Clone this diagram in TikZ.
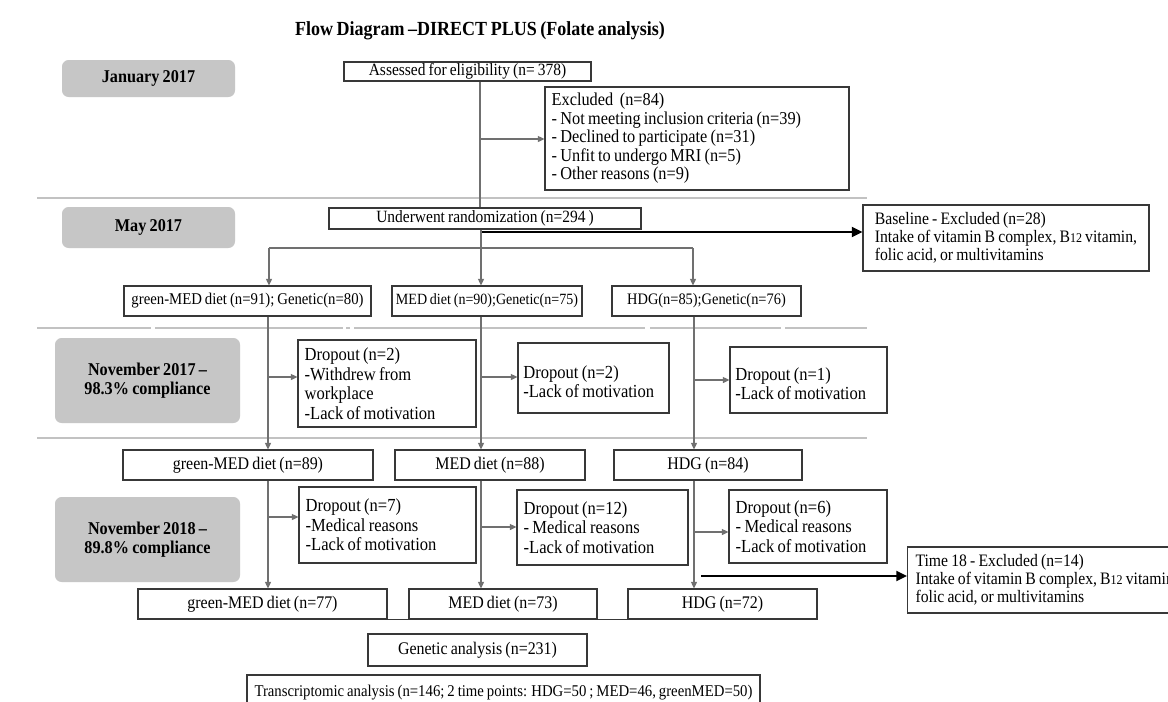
\documentclass[tikz,border=0pt]{standalone}
\usepackage{fontspec}
\setmainfont{Liberation Serif}[FakeStretch=0.9,WordSpace=0.8]
\usetikzlibrary{arrows.meta}
\newcommand\myfs[2]{\fontsize{#1}{#2}\selectfont}
\definecolor{conc}{HTML}{707070}
\definecolor{boxc}{HTML}{383838}
\definecolor{sepc}{HTML}{C2C2C2}
\definecolor{tlc}{HTML}{C6C6C6}
\begin{document}
\begin{tikzpicture}[x=0.75pt,y=-0.75pt,
  conn/.style={draw=conc, line width=1pt},
  arr/.style={conn, -{Triangle[length=5pt,width=4.5pt]}},
  blk/.style={draw=black, line width=1.4pt, -{Triangle[length=8pt,width=7.5pt]}},
  sep/.style={draw=sepc, line width=1.5pt},
  box/.style={draw=boxc, line width=0.8pt, inner sep=0pt, align=center, font=\myfs{13.3}{15}},
  sz/.style 2 args={minimum width=#1*0.75pt, minimum height=#2*0.75pt},
  lbox/.style n args={3}{box, align=left, inner xsep=#3, text width=#1*0.75pt-2*#3, minimum width=#1*0.75pt, minimum height=#2*0.75pt, execute at begin node={\spaceskip=0pt\xspaceskip=0pt}},
  tl/.style={fill=tlc, rounded corners=5pt, inner sep=0pt, align=center, font=\bfseries\myfs{13.5}{14}},
  dtext/.style={font=\myfs{13.8}{14.6}},
  vtext/.style={font=\myfs{13.1}{13.6}},
]
\fill[white] (0,0) rectangle (1168,701);
\useasboundingbox (0,0) rectangle (1168,701);

% title
\node[font=\bfseries\myfs{15}{17}] (title) at (480,31) {Flow Diagram –DIRECT PLUS (Folate analysis)};

% separators
\draw[sep] (37,198) -- (867,198);
\draw[sep] (37,328) -- (151,328);
\draw[sep] (155,328) -- (343,328);
\draw[sep] (346,328) -- (350,328);
\draw[sep] (354,328) -- (645,328);
\draw[sep] (650,328) -- (781,328);
\draw[sep] (785,328) -- (867,328);
\draw[sep] (37,438) -- (867,438);

% timeline boxes
\node[tl, sz={173}{37}] (jan) at (148.5,78.5) {January 2017};
\node[tl, sz={173}{41}] (may) at (148.5,227.5) {May 2017};
\node[tl, sz={185}{85}] (nov17) at (147.5,380.5) {November 2017 –\\98.3\% compliance};
\node[tl, sz={185}{85}] (nov18) at (147.5,539.5) {November 2018 –\\89.8\% compliance};

% flow boxes
\node[box, sz={247}{19}, font=\myfs{12.9}{14}] (assess) at (467.5,71.5) {Assessed for eligibility (n= 378)};
\node[lbox={304}{103}{5pt}, font=\myfs{13.6}{13.9}] (excl) at (697,138.5) {Excluded~ (n=84)\\- Not meeting inclusion criteria (n=39)\\- Declined to participate (n=31)\\- Unfit to undergo MRI (n=5)\\- Other reasons (n=9)};
\node[box, sz={312}{21}, font=\myfs{12.9}{14}] (rand) at (485,218.5) {Underwent randomization (n=294 )};
\node[box, sz={286}{66}, vtext, align=left] (base) at (1006,238) {Baseline - Excluded (n=28)\\Intake of vitamin B complex, B{\myfs{10}{10}12} vitamin,\\folic acid, or multivitamins};

\node[box, sz={247}{30}, font=\myfs{12.3}{14}] (g1) at (247.5,301) {green-MED diet (n=91); Genetic(n=80)};
\node[box, sz={190}{30}, font=\myfs{11.7}{14}] (m1) at (487,301) {MED diet (n=90);Genetic(n=75)};
\node[box, sz={189}{30}, font=\myfs{12}{14}] (h1) at (706.5,301) {HDG(n=85);Genetic(n=76)};

\node[lbox={178}{87}{5pt}, dtext] (d1) at (387,383.5) {Dropout (n=2)\\-Withdrew from\\workplace\\-Lack of motivation};
\node[lbox={151}{70}{4pt}, dtext, text depth=9pt] (d2) at (593.5,378) {Dropout (n=2)\\-Lack of motivation};
\node[lbox={157}{66}{4pt}, dtext, text depth=9pt] (d3) at (808.5,380) {Dropout (n=1)\\-Lack of motivation};

\node[box, sz={250}{30}] (g2) at (248,465) {green-MED diet (n=89)};
\node[box, sz={190}{30}] (m2) at (490,465) {MED diet (n=88)};
\node[box, sz={188}{30}] (h2) at (708,465) {HDG (n=84)};

\node[lbox={177}{76}{5pt}, dtext] (d4) at (387.5,525) {Dropout (n=7)\\-Medical reasons\\-Lack of motivation};
\node[lbox={171}{75}{5pt}, dtext] (d5) at (602.5,527.5) {Dropout (n=12)\\- Medical reasons\\-Lack of motivation};
\node[lbox={158}{73}{5pt}, dtext] (d6) at (808,526.5) {Dropout (n=6)\\- Medical reasons\\-Lack of motivation};

\node[box, vtext, align=left, inner xsep=6pt, minimum height=66*0.75pt, anchor=west] (t18) at (907,580) {Time 18 - Excluded (n=14)\\Intake of vitamin B complex, B{\myfs{10}{10}12} vitamin,\\folic acid, or multivitamins};

\node[box, sz={249}{30}] (g3) at (262.5,604) {green-MED diet (n=77)};
\node[box, sz={188}{30}] (m3) at (503,604) {MED diet (n=73)};
\node[box, sz={189}{30}] (h3) at (722.5,604) {HDG (n=72)};

\node[box, sz={219}{32}] (gen) at (477.5,650) {Genetic analysis (n=231)};
\node[box, sz={513}{36}, font=\myfs{12.3}{14}] (trans) at (503.5,693) {Transcriptomic analysis (n=146; 2 time points: HDG=50 ; MED=46, greenMED=50)};

% connectors: top
\coordinate (v1) at (480,139);
\draw[conn] (assess.south -| v1) -- (rand.north -| v1);
\draw[arr] (v1) -- (excl.west |- v1);

\coordinate (b0) at (482,232);
\draw[blk] (b0) -- (base.west |- b0);

\coordinate (bm) at (481,248);
\coordinate (bl) at (269,248);
\coordinate (br) at (693,248);
\draw[arr] (rand.south -| bm) -- (m1.north -| bm);
\draw[conn] (bl) -- (br);
\draw[arr] (bl) -- (g1.north -| bl);
\draw[arr] (br) -- (h1.north -| br);

% column lines, first period
\coordinate (cg) at (268,377);
\coordinate (cm) at (481,377);
\coordinate (ch) at (694,380);
\draw[arr] (g1.south -| cg) -- (g2.north -| cg);
\draw[arr] (m1.south -| cm) -- (m2.north -| cm);
\draw[arr] (h1.south -| ch) -- (h2.north -| ch);
\draw[arr] (cg) -- (d1.west |- cg);
\draw[arr] (cm) -- (d2.west |- cm);
\draw[arr] (ch) -- (d3.west |- ch);

% column lines, second period
\coordinate (eg) at (268,517);
\coordinate (em) at (481,527);
\coordinate (eh) at (694,532);
\draw[arr] (g2.south -| eg) -- (g3.north -| eg);
\draw[arr] (m2.south -| em) -- (m3.north -| em);
\draw[arr] (h2.south -| eh) -- (h3.north -| eh);
\draw[arr] (eg) -- (d4.west |- eg);
\draw[arr] (em) -- (d5.west |- em);
\draw[arr] (eh) -- (d6.west |- eh);

\coordinate (b1) at (701,576);
\draw[blk] (b1) -- (t18.west |- b1);

% bottom joining line
\draw[draw=boxc, line width=0.8pt] (g3.south east) -- (m3.south west);
\draw[draw=boxc, line width=0.8pt] (m3.south east) -- (h3.south west);
\end{tikzpicture}
\end{document}
